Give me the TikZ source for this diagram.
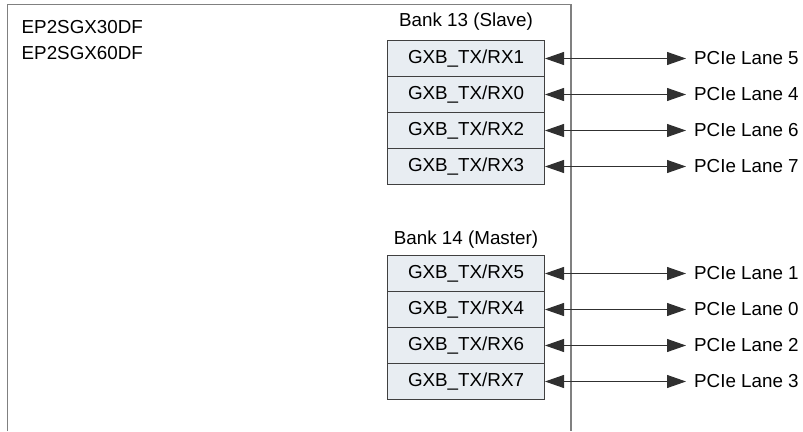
\documentclass[tikz,border=0pt]{standalone}
\usepackage{fontspec}
\setmainfont{Liberation Sans}
\usetikzlibrary{arrows.meta}
\definecolor{cellfill}{HTML}{E8EDF2}
\definecolor{cellline}{HTML}{404040}
\definecolor{outline}{HTML}{808080}
\definecolor{arrowcol}{HTML}{303030}
\begin{document}
\begin{tikzpicture}[x=1pt,y=-1pt,
  font=\fontsize{18.8}{22}\selectfont,
  cell/.style={draw=cellline,line width=1pt,fill=cellfill,minimum width=157pt,minimum height=36pt,inner sep=0pt,anchor=north west},
  lane/.style={anchor=west,inner sep=0pt},
  plain/.style={inner sep=0pt},
  link/.style={draw=arrowcol,line width=1pt,{Triangle[length=19pt,width=13pt]}-{Triangle[length=19pt,width=13pt]},shorten >=8pt}
]
\useasboundingbox (0,0) rectangle (803,431);
% outer device outline (open at bottom)
\draw[outline,line width=1.3pt] (7.5,431) -- (7.5,4.5) -- (571,4.5) -- (571,431);
\node[plain,anchor=west] (dev1) at (21.5,27) {EP2SGX30DF};
\node[plain,anchor=west] (dev2) at (21.5,53) {EP2SGX60DF};
% Bank 13
\node[plain] (b13) at (466,22) {Bank 13 (Slave)};
\node[cell] (r1) at (387,40)  {GXB\_TX/RX1};
\node[cell] (r0) at (387,76)  {GXB\_TX/RX0};
\node[cell] (r2) at (387,112) {GXB\_TX/RX2};
\node[cell] (r3) at (387,148) {GXB\_TX/RX3};
% Bank 14
\node[plain] (b14) at (466,240) {Bank 14 (Master)};
\node[cell] (r5) at (387,255) {GXB\_TX/RX5};
\node[cell] (r4) at (387,291) {GXB\_TX/RX4};
\node[cell] (r6) at (387,327) {GXB\_TX/RX6};
\node[cell] (r7) at (387,363) {GXB\_TX/RX7};
% lane labels
\node[lane] (l5) at (694,58)  {PCIe Lane 5};
\node[lane] (l4) at (694,94)  {PCIe Lane 4};
\node[lane] (l6) at (694,130) {PCIe Lane 6};
\node[lane] (l7) at (694,166) {PCIe Lane 7};
\node[lane] (l1) at (694,273) {PCIe Lane 1};
\node[lane] (l0) at (694,309) {PCIe Lane 0};
\node[lane] (l2) at (694,345) {PCIe Lane 2};
\node[lane] (l3) at (694,381) {PCIe Lane 3};
% connectors
\foreach \a/\b in {r1/l5,r0/l4,r2/l6,r3/l7,r5/l1,r4/l0,r6/l2,r7/l3}
  \draw[link] (\a.east) -- (\a.east -| \b.west);
\end{tikzpicture}
\end{document}
